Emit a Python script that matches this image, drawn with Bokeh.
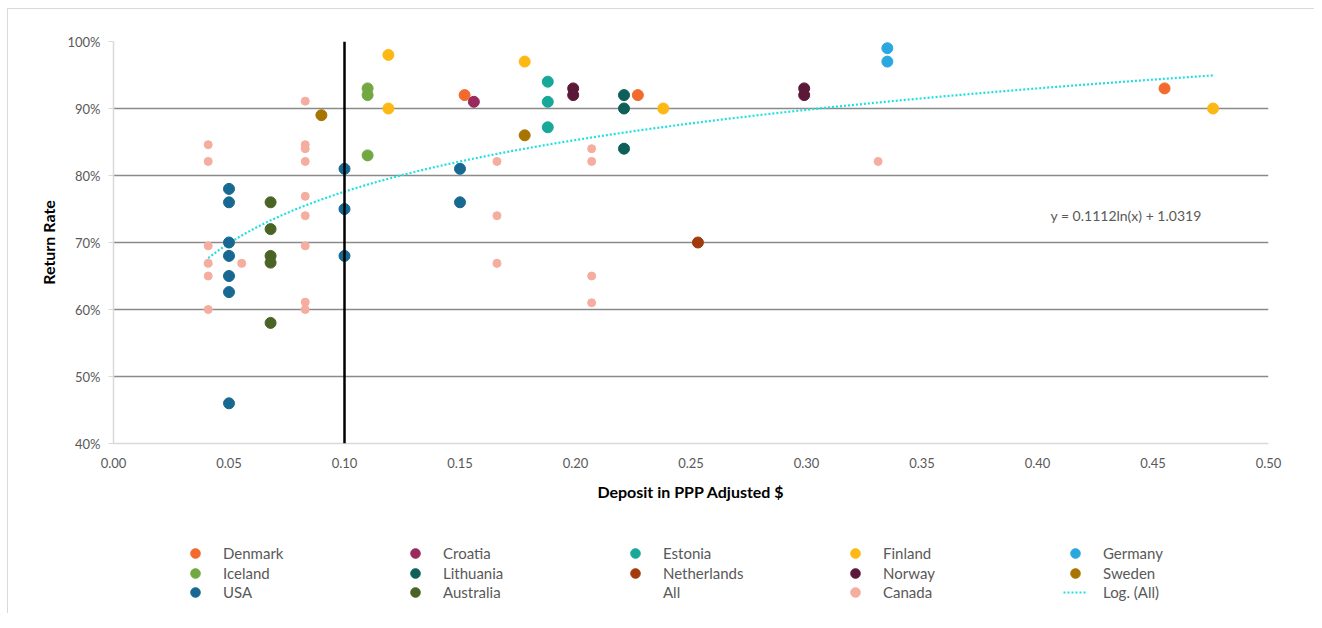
import numpy as np
from bokeh.plotting import figure
from bokeh.layouts import column
from bokeh.models import (Legend, LegendItem, Span, Label,
                          FixedTicker, NumeralTickFormatter)
from bokeh.embed import file_html
from bokeh.resources import INLINE

# ---------------- data ----------------
denmark_x = [0.152, 0.227, 0.455]
denmark_y = [0.92, 0.92, 0.93]
croatia_x = [0.156]
croatia_y = [0.91]
estonia_x = [0.188, 0.188, 0.188]
estonia_y = [0.94, 0.91, 0.872]
finland_x = [0.119, 0.119, 0.178, 0.238, 0.476]
finland_y = [0.98, 0.90, 0.97, 0.90, 0.90]
germany_x = [0.335, 0.335]
germany_y = [0.99, 0.97]
iceland_x = [0.110, 0.110, 0.110]
iceland_y = [0.93, 0.92, 0.83]
lithuania_x = [0.221, 0.221, 0.221]
lithuania_y = [0.92, 0.90, 0.84]
netherlands_x = [0.253]
netherlands_y = [0.70]
norway_x = [0.199, 0.199, 0.299, 0.299]
norway_y = [0.93, 0.92, 0.93, 0.92]
sweden_x = [0.090, 0.178]
sweden_y = [0.89, 0.86]
usa_x = [0.050, 0.050, 0.050, 0.050, 0.050, 0.050, 0.050, 0.100, 0.100, 0.100, 0.150, 0.150]
usa_y = [0.78, 0.76, 0.70, 0.68, 0.65, 0.626, 0.46, 0.81, 0.75, 0.68, 0.81, 0.76]
australia_x = [0.068, 0.068, 0.068, 0.068, 0.068]
australia_y = [0.76, 0.72, 0.68, 0.67, 0.58]
canada_x = [0.041, 0.041, 0.041, 0.041, 0.041, 0.041, 0.0555,
            0.083, 0.083, 0.083, 0.083, 0.083, 0.083, 0.083, 0.083, 0.083,
            0.166, 0.166, 0.166, 0.207, 0.207, 0.207, 0.207, 0.331]
canada_y = [0.846, 0.821, 0.695, 0.669, 0.650, 0.600, 0.669,
            0.911, 0.846, 0.840, 0.821, 0.769, 0.740, 0.695, 0.611, 0.600,
            0.821, 0.740, 0.669, 0.840, 0.821, 0.650, 0.610, 0.821]

trend_a = 0.1112
trend_b = 1.0319
threshold = 0.10

x_ticks = [0.00, 0.05, 0.10, 0.15, 0.20, 0.25, 0.30, 0.35, 0.40, 0.45, 0.50]
y_ticks = [0.4, 0.5, 0.6, 0.7, 0.8, 0.9, 1.0]

series = [
    ("Denmark", denmark_x, denmark_y, "#F26A2E", 11),
    ("Croatia", croatia_x, croatia_y, "#9B2A5C", 11),
    ("Estonia", estonia_x, estonia_y, "#17A89A", 11),
    ("Finland", finland_x, finland_y, "#FDB813", 11),
    ("Germany", germany_x, germany_y, "#2BA7DF", 11),
    ("Iceland", iceland_x, iceland_y, "#72A842", 11),
    ("Lithuania", lithuania_x, lithuania_y, "#0E5F57", 11),
    ("Netherlands", netherlands_x, netherlands_y, "#A23A0C", 11),
    ("Norway", norway_x, norway_y, "#5B1839", 11),
    ("Sweden", sweden_x, sweden_y, "#A87400", 11),
    ("USA", usa_x, usa_y, "#176992", 11),
    ("Australia", australia_x, australia_y, "#4A6426", 11),
    ("Canada", canada_x, canada_y, "#F5ADA0", 8),
]
legend_rows = [["Denmark", "Croatia", "Estonia", "Finland", "Germany"],
               ["Iceland", "Lithuania", "Netherlands", "Norway", "Sweden"],
               ["USA", "Australia", "All", "Canada", "Log. (All)"]]

FONT = "Lato"
GREY = "#595959"
TREND_COLOR = "#1FE0E0"

p = figure(width=1306, height=504, output_backend="svg", toolbar_location=None,
           x_range=(0, 0.5), y_range=(0.4, 1.0),
           min_border_left=105, min_border_right=46, min_border_top=32,
           min_border_bottom=70)
p.outline_line_color = None

# axes
p.xaxis.ticker = FixedTicker(ticks=x_ticks)
p.xaxis.formatter = NumeralTickFormatter(format="0.00")
p.yaxis.ticker = FixedTicker(ticks=y_ticks)
p.yaxis.formatter = NumeralTickFormatter(format="0%")
for ax in (p.xaxis, p.yaxis):
    ax.axis_line_color = "#d9d9d9"
    ax.axis_line_width = 1.5
    ax.major_tick_line_color = "#d9d9d9"
    ax.minor_tick_line_color = None
    ax.major_label_text_font = FONT
    ax.major_label_text_font_size = "13px"
    ax.major_label_text_color = GREY
    ax.axis_label_text_font = FONT
    ax.axis_label_text_font_size = "16px"
    ax.axis_label_text_font_style = "bold"
    ax.axis_label_text_color = "black"
p.xaxis.major_tick_out = 0
p.xaxis.major_tick_in = 0
p.xaxis.major_label_standoff = 14
p.xaxis.axis_label = "Deposit in PPP Adjusted $"
p.xaxis.axis_label_standoff = 11
p.yaxis.major_tick_out = 5
p.yaxis.major_tick_in = 0
p.yaxis.major_label_standoff = 8
p.yaxis.axis_label = "Return Rate"
p.yaxis.axis_label_standoff = 6

p.xgrid.grid_line_color = None
p.ygrid.ticker = FixedTicker(ticks=y_ticks[1:])
p.ygrid.grid_line_color = "#8a8a8a"
p.ygrid.grid_line_width = 1.5

# threshold line
p.add_layout(Span(location=threshold, dimension="height", line_color="black",
                  line_width=2.5))

# trendline (from fitted equation) over range of all data
all_x = np.concatenate([np.array(s[1]) for s in series])
tx = np.linspace(all_x.min(), all_x.max(), 200)
ty = trend_a * np.log(tx) + trend_b
p.line(tx, ty, line_color=TREND_COLOR, line_width=2.2, line_dash="2 2")

for name, xs, ys, color, size in series:
    p.scatter(xs, ys, size=size, fill_color=color, line_color=color, marker="circle")

p.add_layout(Label(x=0.4056, y=0.740, text="y = 0.1112ln(x) + 1.0319",
                   text_font=FONT, text_font_size="14px",
                   text_color=GREY, text_baseline="middle"))

# ---------------- legend strip ----------------
lf = figure(width=1306, height=100, output_backend="svg", toolbar_location=None,
            x_range=(0, 1), y_range=(0, 1), x_axis_type=None, y_axis_type=None,
            min_border_left=0, min_border_right=0, min_border_top=0,
            min_border_bottom=0)
lf.outline_line_color = None
lf.xgrid.grid_line_color = None
lf.ygrid.grid_line_color = None

dummy = {}
for name, xs, ys, color, size in series:
    dummy[name] = lf.scatter([-10], [-10], size=size, fill_color=color,
                             line_color=color, marker="circle")
dummy["All"] = lf.scatter([-10], [-10], size=1, fill_alpha=0, line_alpha=0)
dummy["Log. (All)"] = lf.line([-10, -9], [-10, -10], line_color=TREND_COLOR,
                              line_width=2, line_dash="2 2")

for names, vy in zip(legend_rows, [48, 28, 9]):
    items = [LegendItem(label=n, renderers=[dummy[n]]) for n in names]
    lg = Legend(items=items, orientation="horizontal", location=(70, vy),
                glyph_width=24, glyph_height=24, label_standoff=16,
                label_width=180, spacing=0, padding=0, margin=0,
                border_line_color=None, background_fill_alpha=0,
                label_text_font=FONT, label_text_font_size="15px",
                label_text_color=GREY)
    lf.add_layout(lg, "center")

layout = column(p, lf, spacing=0)
layout.styles = {"margin-left": "7px", "margin-top": "8px",
                 "border-left": "1px solid #d9d9d9", "border-top": "1px solid #d9d9d9"}

open("out.html", "w").write(file_html(layout, INLINE))
